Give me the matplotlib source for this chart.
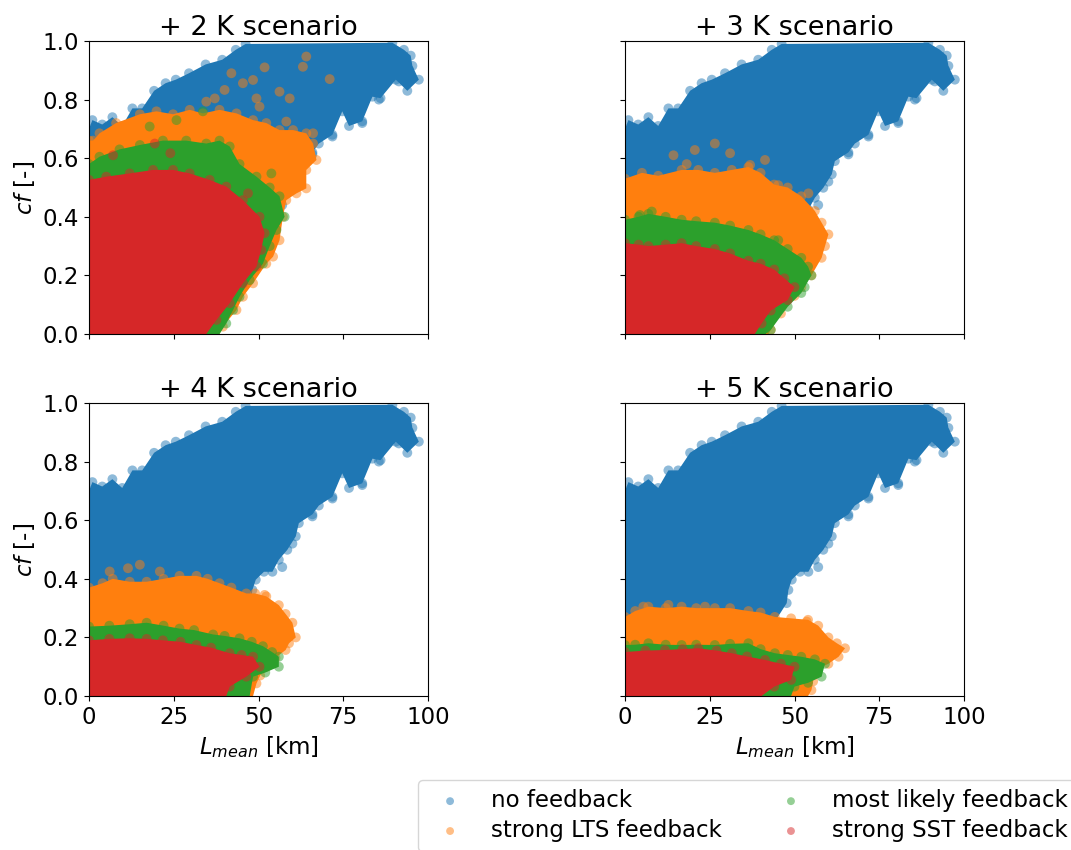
import matplotlib.pyplot as plt
from matplotlib.patches import Polygon

# outline of each point cloud (L_mean [km], cf [-])
scenarios = [2, 3, 4, 5]
labels = ['no feedback', 'strong LTS feedback', 'most likely feedback', 'strong SST feedback']
colors = ['#1f77b4', '#ff7f0e', '#2ca02c', '#d62728']

# no feedback cloud is the same in every panel
nofb_L = [0, 0, 1, 3.9, 6.9, 9.8, 12.8, 15.7, 19.2, 22.6, 25.6, 29.5, 34.4, 39.3, 43.3, 46.2,
          89.5, 92.9, 94.9, 95.4, 97.3, 93.9, 90.5, 86, 83.6, 80.6, 76.7, 74.7, 71.8, 67.8, 65.9,
          61.9, 61, 58.5, 56, 54.1, 51.6, 49.2, 48.2, 47.7, 44, 30]
nofb_cf = [0, 0.70, 0.73, 0.715, 0.74, 0.71, 0.77, 0.77, 0.83, 0.856, 0.868, 0.89, 0.92, 0.936, 0.97, 0.99,
           0.994, 0.97, 0.95, 0.915, 0.868, 0.83, 0.868, 0.805, 0.81, 0.726, 0.71, 0.76, 0.68, 0.65, 0.62,
           0.59, 0.545, 0.499, 0.465, 0.424, 0.424, 0.397, 0.362, 0.317, 0.25, 0]
nofb_out_L = [14.7, 80.6, 77.7, 85.5, 91.4, 94.4, 89.5, 65.9, 58, 71.8, 60.0, 70.0, 52.0, 57.0]
nofb_out_cf = [0.749, 0.72, 0.754, 0.8, 0.862, 0.902, 0.959, 0.613, 0.546, 0.674, 0.52, 0.70, 0.45, 0.44]

lts_L = {
    2: [0, 0, 1.2, 3.1, 8, 15, 19.9, 24.8, 29.7, 33.6, 38.5, 43.5, 48.4, 52.3, 56.2, 60.2, 64.1, 66.1,
        67.1, 64.1, 64.1, 61.2, 58.2, 57.2, 56.2, 54.3, 52.3, 48.4, 45.4, 43.5, 39.5, 38.5],
    3: [0, 0, 5, 9.8, 16.7, 21.6, 26.5, 31.5, 36.4, 40, 44, 48, 52, 56, 58, 60, 59, 58, 55, 52, 50, 46, 43, 42.3],
    4: [0, 0, 4, 7, 12, 17, 22, 26.7, 31.7, 35, 38.5, 42, 46.4, 49, 52.3, 56, 58, 60, 61, 59, 58, 55,
        52.3, 50.5, 49.4, 48.4],
    5: [0, 0, 3, 6.9, 12, 16.7, 21, 26.5, 31, 36.4, 40, 44.2, 49, 54, 57, 60, 62.5, 64.9, 63, 60, 56,
        55.5, 55, 54],
}
lts_cf = {
    2: [0, 0.66, 0.66, 0.685, 0.72, 0.75, 0.76, 0.75, 0.765, 0.753, 0.765, 0.753, 0.73, 0.72, 0.696, 0.696,
        0.685, 0.65, 0.594, 0.56, 0.497, 0.48, 0.457, 0.40, 0.32, 0.264, 0.24, 0.173, 0.127, 0.082, 0.025, 0],
    3: [0, 0.53, 0.55, 0.54, 0.56, 0.56, 0.55, 0.56, 0.57, 0.55, 0.51, 0.50, 0.47, 0.42, 0.38, 0.34,
        0.30, 0.26, 0.20, 0.16, 0.13, 0.07, 0.014, 0],
    4: [0, 0.37, 0.385, 0.40, 0.39, 0.39, 0.40, 0.41, 0.41, 0.40, 0.385, 0.37, 0.35, 0.35, 0.34, 0.31,
        0.28, 0.25, 0.20, 0.18, 0.157, 0.13, 0.10, 0.07, 0.043, 0],
    5: [0, 0.27, 0.29, 0.305, 0.30, 0.305, 0.30, 0.30, 0.30, 0.29, 0.285, 0.27, 0.265, 0.26, 0.24, 0.20,
        0.18, 0.163, 0.134, 0.11, 0.089, 0.05, 0.02, 0],
}
lts_out_L = {
    2: [42.0, 51.8, 64.1, 63.1, 71.0, 56.2, 59.2, 45.4, 48.4, 40.0, 34.6, 37.1, 49.4, 50.3, 58.2, 66.1],
    3: [14.3, 20.6, 26.5, 31.0, 41.3, 18.2, 36.9, 45.2, 54.1],
    4: [6.1, 11.5, 15.0, 20.9, 51.8],
    5: [5.4, 12.8, 23.6, 53.6],
}
lts_out_cf = {
    2: [0.89, 0.91, 0.947, 0.912, 0.87, 0.827, 0.804, 0.856, 0.867, 0.833, 0.793, 0.804, 0.804, 0.776, 0.725, 0.685],
    3: [0.61, 0.628, 0.65, 0.617, 0.594, 0.58, 0.577, 0.508, 0.48],
    4: [0.425, 0.436, 0.448, 0.425, 0.345],
    5: [0.305, 0.311, 0.305, 0.254],
}

ml_L = {
    2: [0, 0, 3.1, 9, 15, 21.8, 28.7, 34.6, 38.5, 41.5, 44.4, 49.4, 53.3, 56.2, 57.7, 55.3, 53.3, 51.3,
        47.4, 44.4, 42.5, 40.5, 38.5],
    3: [0, 0, 4, 6.9, 12, 16.7, 21, 26.5, 31, 36.4, 40, 44, 48, 52, 54, 55, 53, 52, 48, 43, 41.5],
    4: [0, 0, 6, 12, 17, 22, 26.7, 31, 36.6, 40, 44.4, 48, 51.3, 54, 56, 56, 52, 48.4, 47.4],
    5: [0, 0, 3, 6.9, 12, 16.7, 21, 26.5, 31, 36.4, 40, 44.2, 48, 52, 56, 59, 58, 54, 50, 49],
}
ml_cf = {
    2: [0, 0.58, 0.605, 0.63, 0.645, 0.66, 0.66, 0.65, 0.66, 0.64, 0.58, 0.537, 0.50, 0.47, 0.40, 0.355,
        0.30, 0.24, 0.184, 0.127, 0.082, 0.036, 0],
    3: [0, 0.39, 0.40, 0.41, 0.40, 0.39, 0.385, 0.38, 0.37, 0.355, 0.34, 0.32, 0.29, 0.26, 0.23, 0.20,
        0.16, 0.14, 0.093, 0.014, 0],
    4: [0, 0.237, 0.24, 0.245, 0.25, 0.24, 0.23, 0.225, 0.21, 0.205, 0.197, 0.185, 0.17, 0.15, 0.134,
        0.10, 0.08, 0.066, 0],
    5: [0, 0.174, 0.175, 0.18, 0.175, 0.174, 0.175, 0.174, 0.178, 0.18, 0.16, 0.146, 0.14, 0.134, 0.125,
        0.11, 0.066, 0.045, 0.032, 0],
}
ml_out_L = {2: [17.9, 25.8, 33.6, 53.8], 3: [4.4, 7.9, 45.2], 4: [], 5: []}
ml_out_cf = {2: [0.708, 0.73, 0.76, 0.548], 3: [0.406, 0.418, 0.32], 4: [], 5: []}

sst_L = {
    2: [0, 0, 5.1, 12, 18.9, 24.8, 29.7, 35.6, 40.5, 45.4, 50.3, 51.8, 50.8, 49.4, 45.4, 41.5, 37.6, 34.6],
    3: [0, 0, 4, 6.9, 12, 16.7, 21, 26.5, 31, 36.4, 40, 44, 47, 50, 48, 43, 40.3, 38.3],
    4: [0, 0, 6, 12, 17, 21.8, 27, 31.7, 36, 41.5, 45, 48.4, 50.3, 46.4, 41.5, 40.5],
    5: [0, 0, 6, 11.8, 17, 21.6, 27, 31.5, 36, 41.3, 46, 50, 49, 44, 40.3],
}
sst_cf = {
    2: [0, 0.526, 0.537, 0.548, 0.56, 0.56, 0.548, 0.526, 0.503, 0.457, 0.40, 0.344, 0.287, 0.23, 0.173,
        0.105, 0.048, 0],
    3: [0, 0.31, 0.305, 0.30, 0.305, 0.31, 0.30, 0.29, 0.275, 0.25, 0.24, 0.22, 0.19, 0.16, 0.116, 0.08,
        0.036, 0],
    4: [0, 0.19, 0.195, 0.197, 0.195, 0.19, 0.185, 0.174, 0.165, 0.146, 0.14, 0.134, 0.10, 0.066, 0.032, 0],
    5: [0, 0.15, 0.155, 0.157, 0.16, 0.163, 0.155, 0.146, 0.135, 0.123, 0.11, 0.10, 0.055, 0.032, 0],
}
sst_out_L = {2: [46.9, 19.4, 24.0, 7.1], 3: [], 4: [], 5: []}
sst_out_cf = {2: [0.48, 0.65, 0.617, 0.61], 3: [], 4: [], 5: []}

plt.rcParams['font.size'] = 16.5

fig = plt.figure(figsize=(10.71, 8.5), dpi=100)
W, H = 1071, 850
boxes = [(89, 41), (625, 41), (89, 403), (625, 403)]
axes = []
for (x0, y0) in boxes:
    ax = fig.add_axes([x0 / W, 1 - (y0 + 293) / H, 339 / W, 293 / H])
    axes.append(ax)


def draw_cloud(ax, L, cf, oL, ocf, color, label=None):
    ax.add_patch(Polygon(list(zip(L, cf)), closed=True, facecolor=color,
                         edgecolor='none', zorder=2))
    # circles along the outline and the loose outliers
    ax.scatter(L[1:-1] + oL, cf[1:-1] + ocf, s=50, color=color, alpha=0.5,
               edgecolors='none', zorder=2, label=label)


for i, (ax, k) in enumerate(zip(axes, scenarios)):
    draw_cloud(ax, nofb_L, nofb_cf, nofb_out_L, nofb_out_cf, colors[0], labels[0] if i == 0 else None)
    draw_cloud(ax, lts_L[k], lts_cf[k], lts_out_L[k], lts_out_cf[k], colors[1], labels[1] if i == 0 else None)
    draw_cloud(ax, ml_L[k], ml_cf[k], ml_out_L[k], ml_out_cf[k], colors[2], labels[2] if i == 0 else None)
    draw_cloud(ax, sst_L[k], sst_cf[k], sst_out_L[k], sst_out_cf[k], colors[3], labels[3] if i == 0 else None)
    ax.set_xlim(0, 100)
    ax.set_ylim(0, 1)
    ax.set_xticks([0, 25, 50, 75, 100])
    ax.set_yticks([0, 0.2, 0.4, 0.6, 0.8, 1.0])
    ax.set_title(f'+ {k} K scenario', fontsize=19.5, pad=4)
    if i % 2 == 0:
        ax.set_ylabel('$cf$ [-]')
    else:
        ax.set_yticklabels([])
    if i < 2:
        ax.set_xticklabels([])
    else:
        ax.set_xlabel('$L_{mean}$ [km]')

fig.legend(loc='upper left', bbox_to_anchor=(418 / W, 1 - 780 / H), ncol=2,
           markerscale=0.8, borderaxespad=0, labelspacing=0.3)

fig.savefig('out.png', dpi=100)
